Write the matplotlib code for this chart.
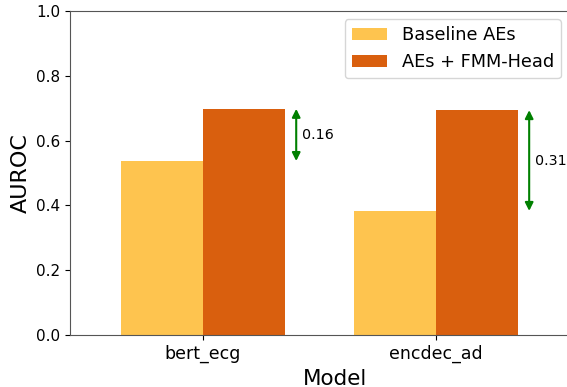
import matplotlib
matplotlib.use("Agg")
import matplotlib.pyplot as plt
import numpy as np

models = ["bert_ecg", "encdec_ad"]
baseline = [0.537, 0.383]
fmm_head = [0.698, 0.694]
gains = ["0.16", "0.31"]

width = 0.35
x = np.arange(len(models))

fig = plt.figure(figsize=(5.67, 3.87), dpi=100)
# axes runs past the right edge of the figure, like the original crop
ax = fig.add_axes([70 / 567, 52 / 387, 530 / 567, 324 / 387])

ax.bar(x - width / 2, baseline, width, color="#fec44f", label="Baseline AEs")
ax.bar(x + width / 2, fmm_head, width, color="#d95f0e", label="AEs + FMM-Head")

# arrows showing the improvement
for i in range(len(models)):
    ax.annotate("", xy=(x[i] + 0.40, fmm_head[i]), xytext=(x[i] + 0.40, baseline[i]),
                arrowprops=dict(arrowstyle="<|-|>", color="green", lw=1.5, mutation_scale=12,
                                shrinkA=0, shrinkB=0))
    ax.text(x[i] + 0.425, (fmm_head[i] + baseline[i]) / 2, gains[i], fontsize=10.3, va="center")

ax.set_xlim(-0.571, 1.704)
ax.set_ylim(0, 1.0)
ax.set_xticks(x)
ax.set_xticklabels(models, fontsize=12.5)
ax.tick_params(axis="y", labelsize=11)
ax.set_xlabel("Model", fontsize=15.5)
ax.set_ylabel("AUROC", fontsize=16)
for s in ax.spines.values():
    s.set_color("#555555")
ax.legend(loc="upper right", fontsize=12.8, bbox_to_anchor=(561 / 567, 1 - 19 / 387),
          bbox_transform=fig.transFigure, borderaxespad=0)

fig.savefig("out.png", dpi=100)
